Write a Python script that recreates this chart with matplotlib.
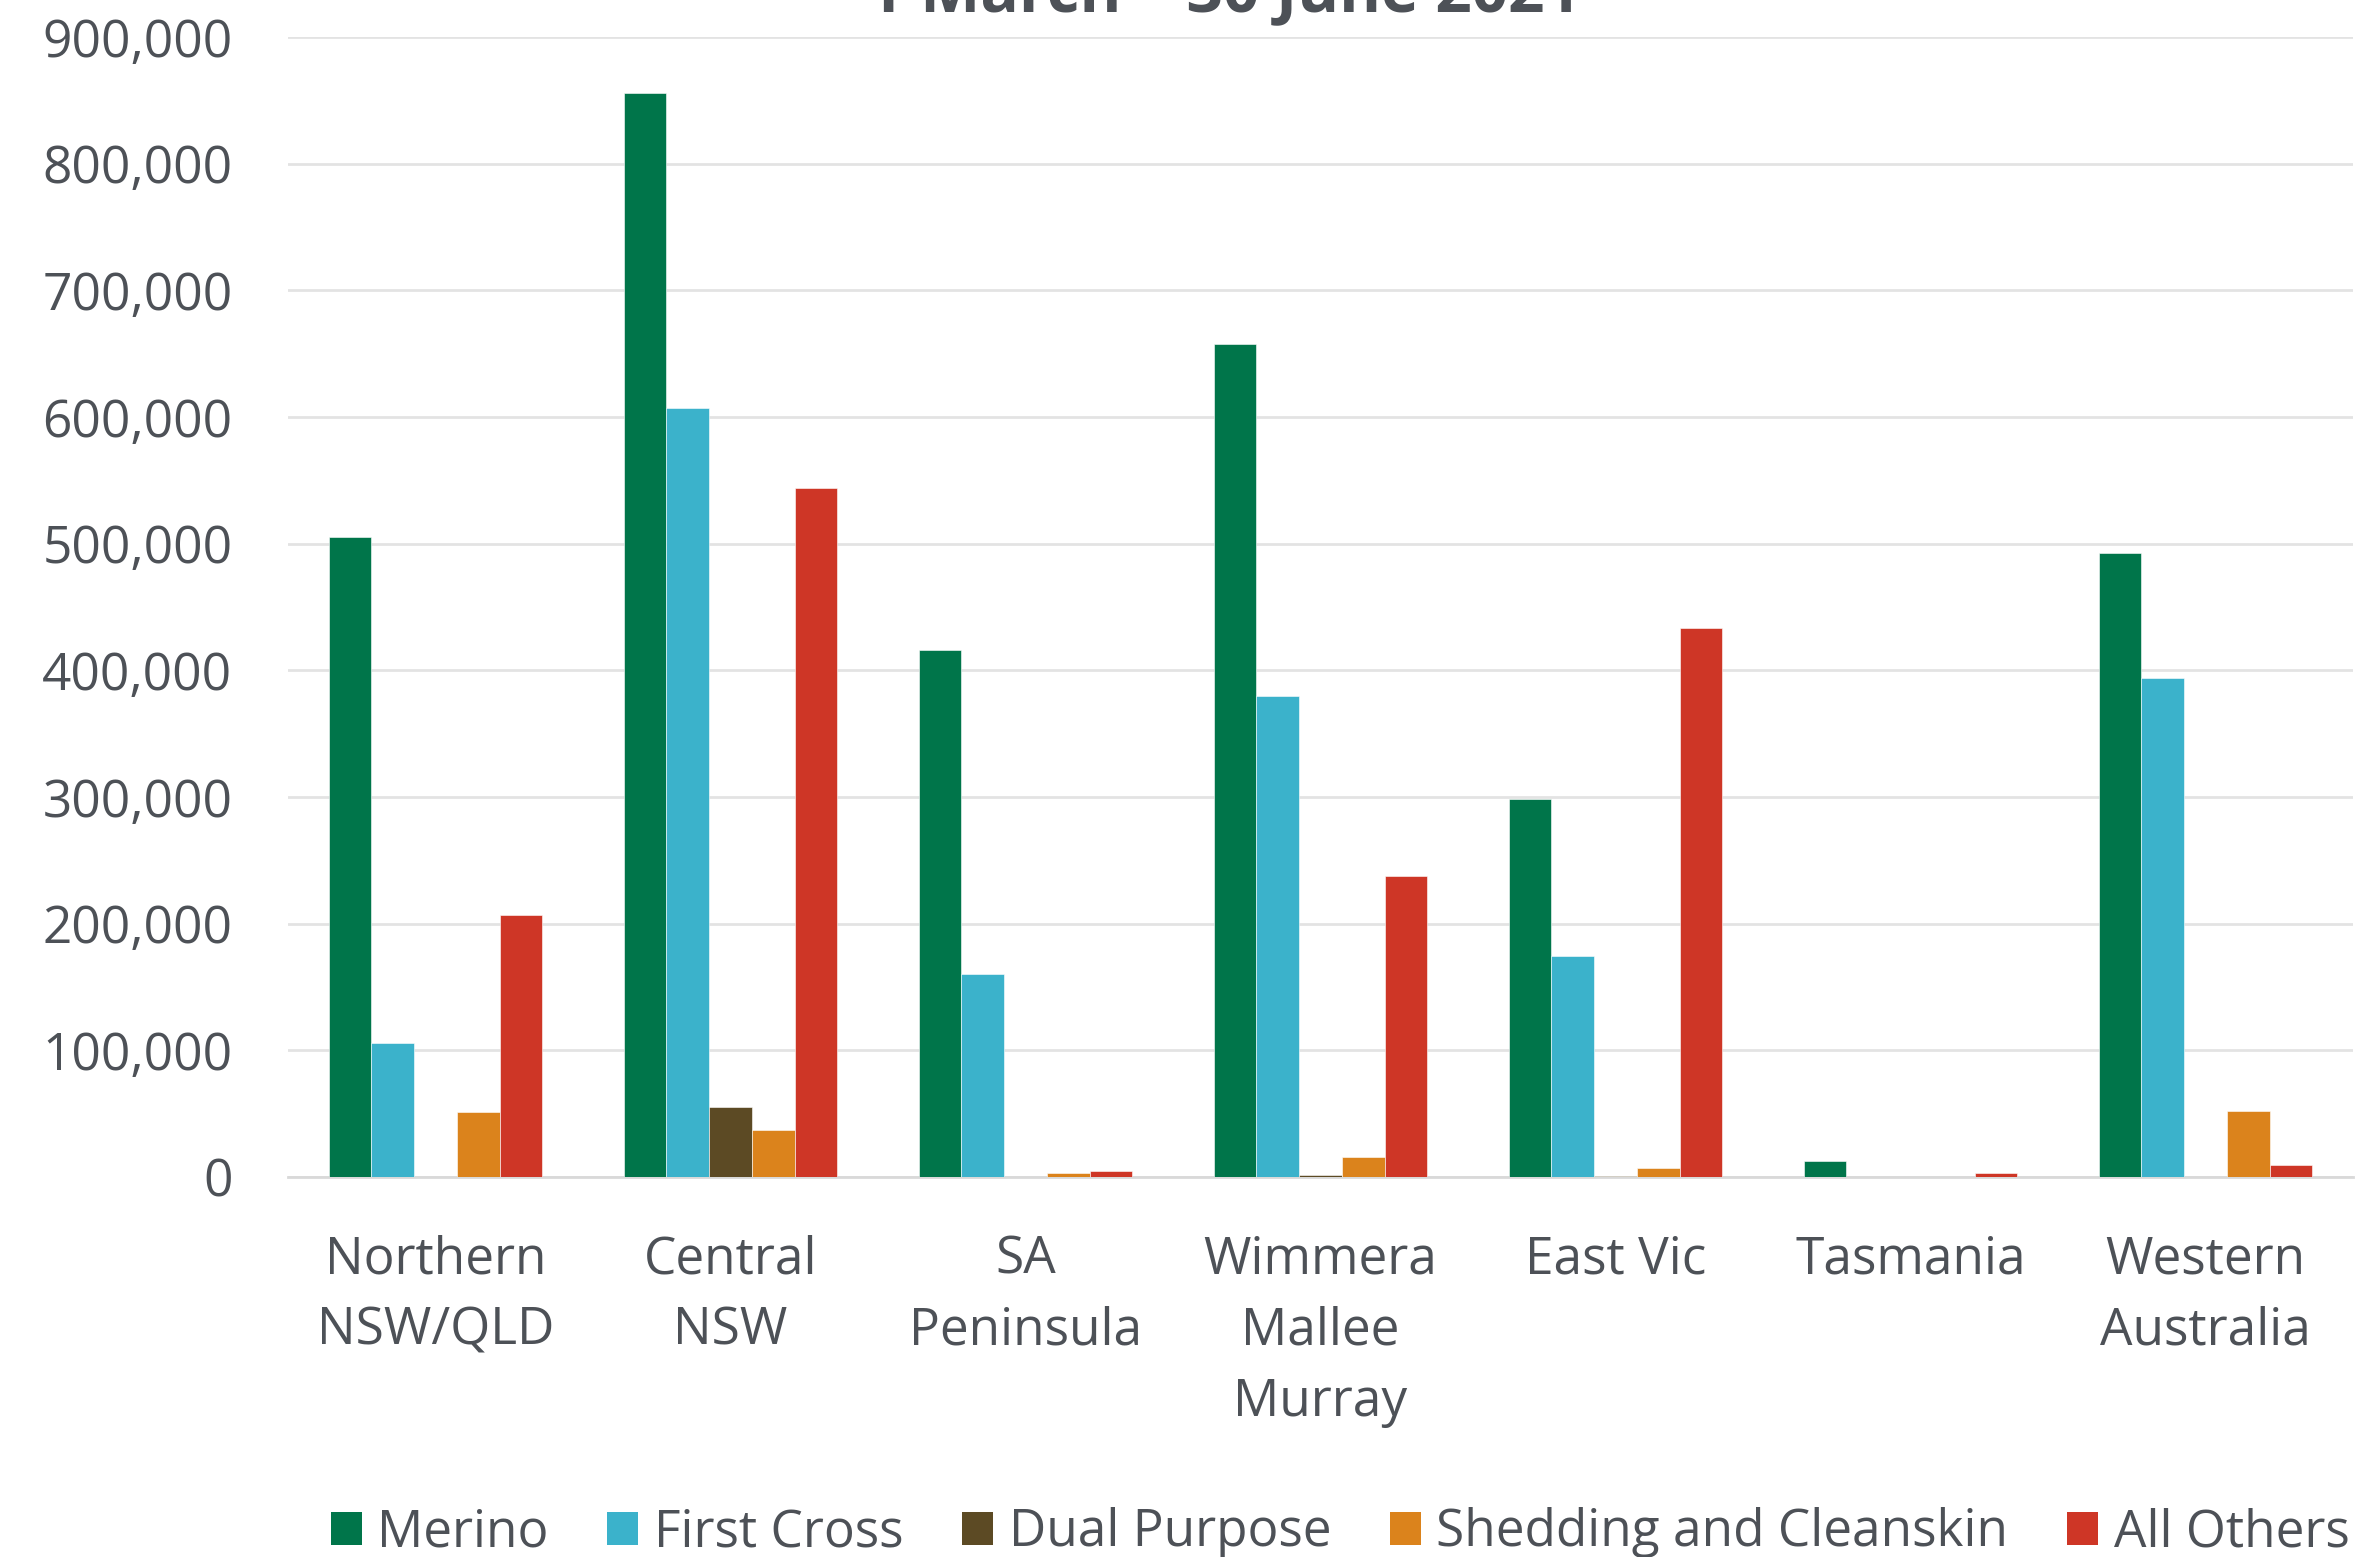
import numpy as np
import matplotlib.pyplot as plt
from matplotlib.patches import Patch

plt.rcParams['font.family'] = ['Open Sans', 'DejaVu Sans']

TEXT = '#4d5157'
GRID = '#e3e3e3'

regions = ['Northern\nNSW/QLD', 'Central\nNSW', 'SA\nPeninsula', 'Wimmera\nMallee\nMurray',
           'East Vic', 'Tasmania', 'Western\nAustralia']
series = ['Merino', 'First Cross', 'Dual Purpose', 'Shedding and Cleanskin', 'All Others']
colors = ['#00754a', '#3bb2cb', '#5c4a24', '#db831c', '#ce3626']

merino = [505500, 855700, 416000, 657300, 298800, 12400, 492400]
first_cross = [106000, 607000, 160000, 380000, 174500, 0, 394400]
dual_purpose = [0, 55000, 0, 1500, 500, 0, 0]
shedding = [51400, 37000, 3500, 15500, 7000, 0, 51800]
all_others = [206800, 543800, 5000, 237800, 433800, 2900, 9700]

values = [merino, first_cross, dual_purpose, shedding, all_others]

fig = plt.figure(figsize=(23.76, 15.57), dpi=100)
ax = fig.add_axes([0.1212, 0.244, 0.8691, 0.7322])

x = np.arange(len(regions))
w = 0.145
for i, (name, vals, c) in enumerate(zip(series, values, colors)):
    ax.bar(x + (i - 2) * w, vals, width=w, color=c, label=name, zorder=3,
           edgecolor='white', linewidth=0.4)

ax.set_xlim(-0.5, len(regions) - 0.5)
ax.set_ylim(0, 900000)
ax.set_yticks(np.arange(0, 900001, 100000))
ax.yaxis.set_major_formatter(plt.FuncFormatter(lambda v, p: f'{int(v):,}'))
ax.set_xticks(x)
ax.set_xticklabels(regions, linespacing=1.52)
ax.tick_params(axis='y', length=0, pad=40, labelsize=37, labelcolor=TEXT)
ax.tick_params(axis='x', length=0, pad=41, labelsize=37, labelcolor=TEXT)
ax.grid(axis='y', color=GRID, linewidth=2, zorder=0)
for s in ['top', 'right', 'left']:
    ax.spines[s].set_visible(False)
ax.spines['bottom'].set_color('#d9d9d9')
ax.spines['bottom'].set_linewidth(2)

fig.text(0.515, 1 - 11 / 1557, '1 March \u2013 30 June 2021', ha='center', va='baseline',
         fontsize=46, fontweight='bold', color=TEXT)

handles = [Patch(facecolor=c, label=n) for n, c in zip(series, colors)]
fig.legend(handles=handles, loc='center', bbox_to_anchor=(0.564, 1 - 1533 / 1557), ncol=5,
           frameon=False, fontsize=37, labelcolor=TEXT, handlelength=0.6, handleheight=0.6,
           handletextpad=0.3, columnspacing=1.15)

fig.savefig('out.png', dpi=100)
